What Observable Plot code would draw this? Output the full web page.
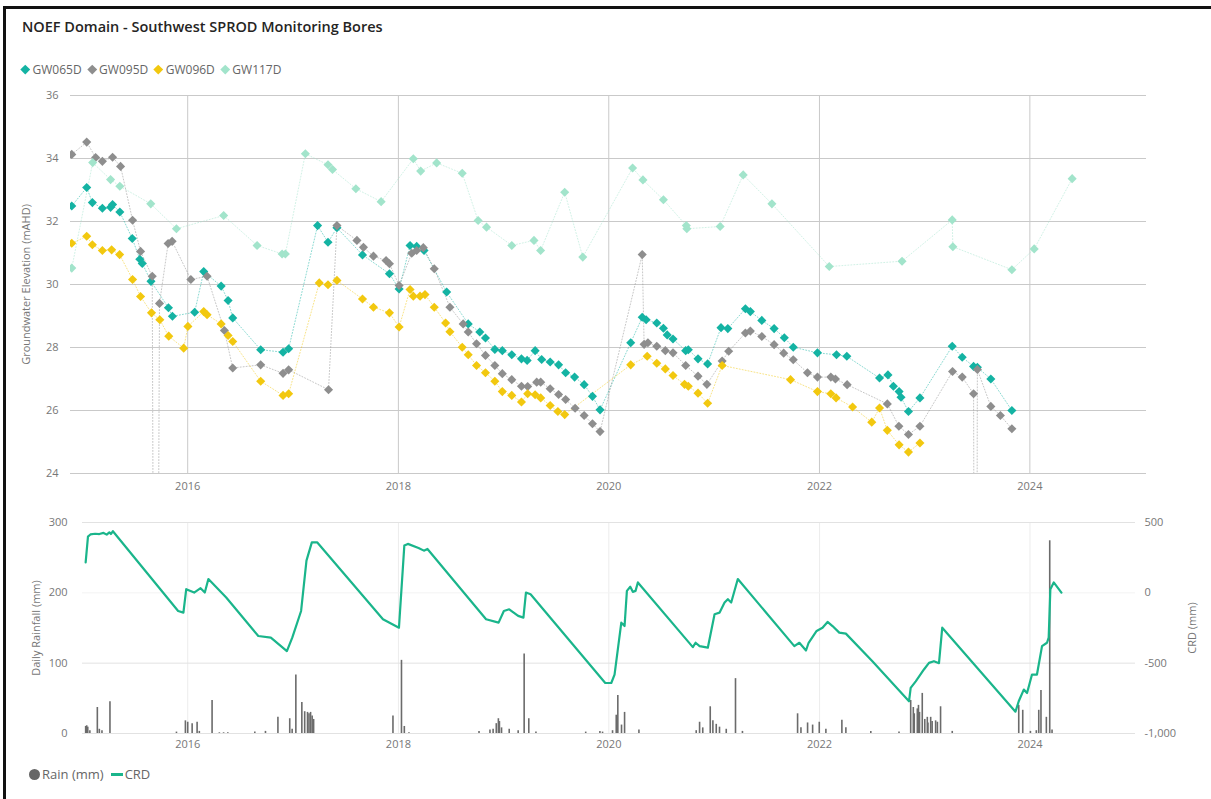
<!DOCTYPE html>
<html>
<head>
<meta charset="utf-8">
<script src="https://cdn.jsdelivr.net/npm/d3@7"></script>
<script src="https://cdn.jsdelivr.net/npm/@observablehq/plot@0.6"></script>
<style>
  html, body { margin: 0; padding: 0; background: #fff; }
  body { width: 1211px; height: 799px; position: relative; overflow: hidden; font-family: "Open Sans", "Noto Sans", sans-serif; }
  #frame { position: absolute; left: 3px; top: 6px; width: 1220px; height: 810px; border-left: 3px solid #111; border-top: 3px solid #111; box-sizing: border-box; }
  #title { position: absolute; left: 22px; top: 17px; font-size: 14.5px; font-weight: 600; color: #252423; white-space: nowrap; }
  .legend { position: absolute; display: flex; align-items: center; font-size: 12px; color: #666; white-space: nowrap; }
  .legend .item { display: flex; align-items: center; margin-right: 6px; }
  #legBot { font-size: 13px; }
  #legBot .item { margin-right: 7px; }
  .dia { width: 6.5px; height: 6.5px; transform: rotate(45deg); margin-right: 4px; margin-left: 1px; }
  .circ { width: 11px; height: 11px; border-radius: 50%; background: #666; margin-right: 2px; }
  .ln { width: 12px; height: 3px; background: #1ab58b; margin-right: 2px; }
  #topChart { position: absolute; left: 0; top: 80px; }
  #botChart { position: absolute; left: 0; top: 505px; }
</style>
</head>
<body>
<div id="frame"></div>
<div id="title">NOEF Domain - Southwest SPROD Monitoring Bores</div>
<div id="legTop" class="legend" style="left:21px; top:61px;"></div>
<div id="topChart"></div>
<div id="botChart"></div>
<div id="legBot" class="legend" style="left:29px; top:765px;"></div>
<script>
// ---------- data (decimal year, value) ----------
const seriesNames = ["GW065D", "GW095D", "GW096D", "GW117D"];
const seriesColors = ["#14b3a3", "#8e8e8e", "#f2c80f", "#a2e4cb"];

const gw065d = [[2014.898,32.49],[2015.040,33.08],[2015.094,32.60],[2015.189,32.42],[2015.267,32.45],[2015.286,32.54],[2015.355,32.30],[2015.473,31.46],[2015.545,30.80],[2015.568,30.67],[2015.651,30.10],[2015.817,29.26],[2015.855,28.99],[2016.066,29.12],[2016.152,30.41],[2016.317,29.95],[2016.383,29.49],[2016.427,28.94],[2016.692,27.93],[2016.904,27.85],[2016.957,27.96],[2017.232,31.87],[2017.331,31.34],[2017.416,31.80],[2017.659,30.94],[2017.915,30.34],[2018.007,29.86],[2018.111,31.24],[2018.174,31.21],[2018.244,31.08],[2018.459,29.76],[2018.664,28.75],[2018.774,28.49],[2018.828,28.30],[2018.917,27.94],[2018.988,27.90],[2019.078,27.77],[2019.170,27.64],[2019.224,27.59],[2019.300,27.90],[2019.362,27.62],[2019.443,27.54],[2019.523,27.45],[2019.590,27.20],[2019.675,27.06],[2019.766,26.82],[2019.845,26.45],[2019.917,26.02],[2020.208,28.15],[2020.317,28.96],[2020.354,28.88],[2020.455,28.78],[2020.518,28.61],[2020.554,28.40],[2020.609,28.27],[2020.729,27.90],[2020.754,27.93],[2020.846,27.64],[2020.937,27.48],[2021.064,28.63],[2021.129,28.60],[2021.296,29.23],[2021.343,29.14],[2021.452,28.86],[2021.569,28.60],[2021.666,28.31],[2021.751,28.01],[2021.981,27.83],[2022.162,27.77],[2022.260,27.72],[2022.571,27.03],[2022.651,27.13],[2022.703,26.77],[2022.757,26.60],[2022.775,26.42],[2022.846,25.97],[2022.955,26.40],[2023.262,28.04],[2023.357,27.69],[2023.465,27.40],[2023.501,27.37],[2023.629,27.00],[2023.829,26.00]];

const gw095d = [[2014.898,34.13],[2015.040,34.52],[2015.125,34.03],[2015.189,33.91],[2015.286,34.04],[2015.362,33.75],[2015.476,32.04],[2015.552,31.05],[2015.663,30.26],[2015.694,0],[2015.732,29.40],[2015.814,31.30],[2015.852,31.37],[2016.030,30.16],[2016.184,30.26],[2016.348,28.54],[2016.427,27.35],[2016.692,27.45],[2016.904,27.18],[2016.957,27.29],[2017.336,26.66],[2017.416,31.87],[2017.606,31.40],[2017.668,31.18],[2017.763,30.90],[2017.883,30.76],[2017.915,30.66],[2018.007,29.97],[2018.127,30.99],[2018.174,31.08],[2018.237,31.17],[2018.341,30.50],[2018.490,29.28],[2018.616,28.75],[2018.664,28.49],[2018.743,28.12],[2018.828,27.75],[2018.917,27.43],[2018.988,27.17],[2019.078,26.98],[2019.170,26.77],[2019.229,26.76],[2019.315,26.90],[2019.353,26.90],[2019.443,26.69],[2019.523,26.51],[2019.590,26.35],[2019.680,26.07],[2019.766,25.84],[2019.845,25.58],[2019.917,25.33],[2020.317,30.95],[2020.335,28.10],[2020.371,28.15],[2020.455,28.04],[2020.536,27.90],[2020.609,27.83],[2020.729,27.43],[2020.846,27.09],[2020.930,26.83],[2021.075,27.57],[2021.137,27.88],[2021.296,28.46],[2021.343,28.52],[2021.452,28.35],[2021.569,28.09],[2021.660,27.82],[2021.751,27.61],[2021.886,27.20],[2021.981,27.06],[2022.108,27.06],[2022.152,27.00],[2022.263,26.82],[2022.645,26.21],[2022.755,25.50],[2022.846,25.24],[2022.955,25.50],[2023.265,27.24],[2023.357,27.06],[2023.465,26.53],[2023.485,0],[2023.501,27.30],[2023.629,26.13],[2023.720,25.84],[2023.829,25.42]];

const gw096d = [[2014.898,31.31],[2015.040,31.53],[2015.094,31.26],[2015.189,31.08],[2015.277,31.10],[2015.353,30.95],[2015.476,30.16],[2015.552,29.62],[2015.656,29.10],[2015.735,28.88],[2015.820,28.36],[2015.962,27.98],[2016.002,28.67],[2016.152,29.14],[2016.184,29.04],[2016.317,28.75],[2016.383,28.38],[2016.427,28.19],[2016.692,26.93],[2016.904,26.48],[2016.957,26.53],[2017.248,30.05],[2017.331,29.99],[2017.416,30.13],[2017.659,29.54],[2017.763,29.28],[2017.915,29.10],[2018.007,28.65],[2018.111,29.84],[2018.142,29.63],[2018.206,29.63],[2018.253,29.68],[2018.341,29.28],[2018.449,28.78],[2018.490,28.50],[2018.607,28.01],[2018.664,27.77],[2018.743,27.43],[2018.828,27.20],[2018.917,26.93],[2018.988,26.60],[2019.078,26.48],[2019.170,26.27],[2019.229,26.53],[2019.300,26.50],[2019.353,26.40],[2019.443,26.16],[2019.516,25.97],[2019.581,25.87],[2020.208,27.45],[2020.364,27.72],[2020.455,27.50],[2020.536,27.32],[2020.609,27.11],[2020.718,26.83],[2020.754,26.77],[2020.846,26.55],[2020.937,26.23],[2021.075,27.43],[2021.725,26.98],[2021.981,26.60],[2022.108,26.53],[2022.158,26.40],[2022.315,26.11],[2022.497,25.63],[2022.571,26.08],[2022.645,25.37],[2022.757,24.91],[2022.846,24.68],[2022.955,24.97]];

const gw117d = [[2014.898,30.52],[2015.097,33.87],[2015.267,33.33],[2015.355,33.12],[2015.649,32.56],[2015.893,31.77],[2016.341,32.19],[2016.658,31.24],[2016.895,30.97],[2016.926,30.97],[2017.116,34.15],[2017.331,33.80],[2017.374,33.65],[2017.596,33.04],[2017.836,32.63],[2018.142,33.99],[2018.212,33.60],[2018.364,33.86],[2018.607,33.53],[2018.758,32.03],[2018.838,31.82],[2019.078,31.24],[2019.289,31.40],[2019.352,31.08],[2019.581,32.93],[2019.753,30.87],[2020.226,33.70],[2020.324,33.32],[2020.518,32.69],[2020.735,31.87],[2020.740,31.77],[2021.056,31.84],[2021.275,33.48],[2021.548,32.56],[2022.093,30.57],[2022.785,30.74],[2023.262,32.05],[2023.268,31.20],[2023.829,30.47],[2024.041,31.13],[2024.401,33.36]];

const rainMm = [[2015.030,10],[2015.040,11],[2015.050,9],[2015.070,4],[2015.141,37],[2015.160,6],[2015.185,4],[2015.261,45],
[2015.893,2],[2015.978,18],[2016.000,16],[2016.042,14],[2016.089,16],[2016.110,3],[2016.231,47],[2016.300,1],[2016.340,1],[2016.380,1],
[2016.636,2],[2016.737,3],[2016.855,23],[2016.967,21],[2016.990,6],[2017.025,83],[2017.082,44],[2017.109,31],[2017.136,30],[2017.150,28],[2017.165,30],[2017.180,25],[2017.194,20],
[2017.948,25],[2018.029,104],[2018.056,10],[2018.100,1],
[2018.766,3],[2018.870,5],[2018.900,6],[2018.930,14],[2018.950,21],[2018.960,17],[2018.980,8],[2019.053,6],[2019.138,4],[2019.195,113],[2019.239,21],[2019.307,2],
[2019.780,2],[2019.915,3],[2019.940,2],[2020.035,4],[2020.070,26],[2020.085,54],[2020.120,12],[2020.149,30],[2020.285,5],
[2020.828,4],[2020.860,16],[2020.890,8],[2020.961,38],[2020.986,18],[2021.018,13],[2021.049,9],[2021.113,6],[2021.201,78],[2021.267,3],
[2021.791,28],[2021.823,8],[2021.886,15],[2021.934,12],[2021.997,16],[2022.060,6],[2022.212,19],[2022.250,8],[2022.487,3],[2022.755,2],
[2022.866,47],[2022.891,37],[2022.900,28],[2022.929,35],[2022.940,40],[2022.950,30],[2022.976,57],[2023.000,20],[2023.024,23],[2023.030,15],[2023.056,23],[2023.070,17],[2023.103,18],[2023.120,16],[2023.150,38],[2023.261,3],
[2023.893,40],[2023.931,33],[2024.004,3],[2024.060,4],[2024.083,33],[2024.104,61],[2024.155,23],[2024.187,274],[2024.209,5]];

const crdMm = [[2015.030,216],[2015.052,400],[2015.075,415],[2015.120,420],[2015.160,418],[2015.200,426],[2015.230,414],[2015.255,430],[2015.270,418],[2015.289,438],
[2015.909,-129],[2015.959,-141],[2015.986,26],[2016.061,2],[2016.122,33],[2016.162,2],[2016.196,98],[2016.365,-33],[2016.669,-307],[2016.788,-319],[2016.940,-414],[2016.991,-319],[2017.075,-129],[2017.126,229],[2017.177,359],[2017.227,359],
[2017.853,-188],[2018.005,-248],[2018.056,336],[2018.090,348],[2018.191,319],[2018.242,300],[2018.276,312],[2018.833,-188],[2018.952,-212],[2019.002,-129],[2019.053,-117],[2019.138,-164],[2019.188,-176],[2019.212,2],[2019.256,-10],
[2019.966,-641],[2020.023,-641],[2020.054,-581],[2020.118,-212],[2020.149,-236],[2020.171,14],[2020.203,43],[2020.227,7],[2020.253,14],[2020.275,74],
[2020.796,-386],[2020.822,-355],[2020.860,-379],[2020.938,-390],[2021.002,-152],[2021.049,-141],[2021.097,-69],[2021.128,-45],[2021.160,-69],[2021.223,98],
[2021.760,-379],[2021.808,-355],[2021.871,-410],[2021.896,-355],[2021.972,-271],[2022.028,-248],[2022.076,-207],[2022.123,-236],[2022.187,-283],[2022.250,-290],[2022.502,-486],
[2022.850,-771],[2022.866,-676],[2022.914,-629],[2022.992,-545],[2023.040,-498],[2023.087,-486],[2023.135,-500],[2023.166,-248],
[2023.862,-845],[2023.893,-771],[2023.941,-688],[2023.972,-712],[2024.019,-581],[2024.066,-581],[2024.114,-379],[2024.161,-355],[2024.177,-319],[2024.193,26],[2024.225,74],[2024.298,2]];

const elevTicks = [24, 26, 28, 30, 32, 34, 36];
const rainTicks = [0, 100, 200, 300];
const crdTicks = [-1000, -500, 0, 500];
const yearTicks = [2016, 2018, 2020, 2022, 2024];

// ---------- helpers ----------
const yd = y => { const Y = Math.floor(y); const a = Date.UTC(Y, 0, 1), b = Date.UTC(Y + 1, 0, 1); return new Date(a + (y - Y) * (b - a)); };
const toRows = (arr, name) => arr.map(([t, v]) => ({date: yd(t), value: v, name}));
const allSeries = [gw065d, gw095d, gw096d, gw117d];
const yearDates = yearTicks.map(y => yd(y));
// CRD mapped onto rainfall axis: -1000..500 -> 0..300
const crdToRain = c => (c - crdTicks[0]) * (rainTicks[3] - rainTicks[0]) / (crdTicks[3] - crdTicks[0]);
const fmtCrd = v => { const c = Math.round(v * 5 - 1000); return (c < 0 ? "-" : "") + d3.format(",")(Math.abs(c)); };

// ---------- legends ----------
const lt = document.getElementById("legTop");
seriesNames.forEach((n, i) => {
  const it = document.createElement("div"); it.className = "item";
  it.innerHTML = `<div class="dia" style="background:${seriesColors[i]}"></div><span>${n}</span>`;
  lt.appendChild(it);
});
document.getElementById("legBot").innerHTML =
  `<div class="item"><div class="circ"></div><span>Rain (mm)</span></div><div class="item"><div class="ln"></div><span>CRD</span></div>`;

// ---------- top chart ----------
const lineMarks = [], dotMarks = [];
allSeries.forEach((arr, i) => {
  const rows = toRows(arr, seriesNames[i]);
  lineMarks.push(Plot.line(rows, {x: "date", y: "value", stroke: seriesColors[i], strokeWidth: 1, strokeDasharray: "1,2", strokeOpacity: 0.5, clip: true}));
  dotMarks.push(Plot.dot(rows, {x: "date", y: "value", symbol: "diamond2", r: 4.1, fill: seriesColors[i], stroke: "none", clip: true}));
});

const topPlot = Plot.plot({
  width: 1211, height: 420,
  marginLeft: 70, marginRight: 65, marginTop: 15, marginBottom: 27,
  style: {fontFamily: "'Open Sans', 'Noto Sans', sans-serif", fontSize: "11px", color: "#777", background: "transparent"},
  x: {type: "utc", domain: [yd(2014.886), yd(2025.106)]},
  y: {domain: [24, 36]},
  marks: [
    Plot.gridY(elevTicks, {stroke: "#c9c9c9", strokeOpacity: 1, strokeWidth: 1}),
    Plot.gridX(yearDates, {stroke: "#c9c9c9", strokeOpacity: 1, strokeWidth: 1}),
    Plot.axisY(elevTicks, {tickSize: 0, tickPadding: 12, label: "Groundwater Elevation (mAHD)", labelAnchor: "center", labelArrow: "none", labelOffset: 48, fill: "#777"}),
    Plot.axisX(yearDates, {tickSize: 0, tickPadding: 9, tickFormat: "%Y", label: null, fill: "#777"}),
    ...lineMarks,
    ...dotMarks
  ]
});
document.getElementById("topChart").appendChild(topPlot);

// ---------- bottom chart ----------
const rainRows = rainMm.map(([t, v]) => ({date: yd(t), value: v}));
const crdRows = crdMm.map(([t, v]) => ({date: yd(t), crd: v, value: crdToRain(v)}));

const botPlot = Plot.plot({
  width: 1211, height: 255,
  marginLeft: 82, marginRight: 76, marginTop: 17, marginBottom: 27,
  style: {fontFamily: "'Open Sans', 'Noto Sans', sans-serif", fontSize: "11px", color: "#777", background: "transparent"},
  x: {type: "utc", domain: [yd(2015), yd(2025)]},
  y: {domain: [0, 300]},
  marks: [
    Plot.gridX(yearDates, {stroke: "#ececec", strokeOpacity: 1}),
    Plot.gridY([0, 100, 300], {stroke: "#e2e2e2", strokeOpacity: 1}),
    Plot.gridY([200], {stroke: "#f3f3f3", strokeOpacity: 1}),
    Plot.axisY(rainTicks, {tickSize: 0, tickPadding: 15, label: "Daily Rainfall (mm)", labelAnchor: "center", labelArrow: "none", labelOffset: 50, fill: "#777"}),
    Plot.axisY(rainTicks, {anchor: "right", tickSize: 0, tickPadding: 9, tickFormat: fmtCrd, label: "CRD (mm)", labelAnchor: "center", labelArrow: "none", labelOffset: 60, fill: "#777"}),
    Plot.axisX(yearDates, {tickSize: 0, tickPadding: 7, tickFormat: "%Y", label: null, fill: "#777"}),
    Plot.ruleX(rainRows, {x: "date", y1: 0, y2: "value", stroke: "#6b6b6b", strokeWidth: 1.6}),
    Plot.line(crdRows, {x: "date", y: "value", stroke: "#1ab58b", strokeWidth: 2.2, curve: "linear"})
  ]
});
document.getElementById("botChart").appendChild(botPlot);
</script>
</body>
</html>
